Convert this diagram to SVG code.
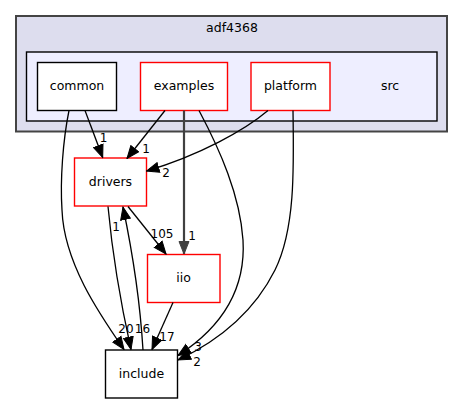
<svg xmlns="http://www.w3.org/2000/svg" width="464" height="404" viewBox="0 0 464 404">
<style>
text{font-family:"DejaVu Sans",sans-serif;fill:#000}
.n{font-size:12.5px;text-anchor:middle}
.l{font-size:12px;text-anchor:middle}
.box{fill:#fff;stroke:#000;stroke-width:1.4}
.red{fill:#fff;stroke:#ff0000;stroke-width:1.4}
.e{fill:none;stroke:#000;stroke-width:1.3;marker-end:url(#a)}
.eg{fill:none;stroke:#404040;stroke-width:2.2;marker-end:url(#ag)}
</style>
<defs>
<marker id="a" markerUnits="userSpaceOnUse" markerWidth="14" markerHeight="12" refX="13" refY="5.5" orient="auto" viewBox="0 0 14 11">
<polygon points="0.5,0.5 13,5.5 0.5,10.5" fill="#000" stroke="#000"/>
</marker>
<marker id="ag" markerUnits="userSpaceOnUse" markerWidth="14" markerHeight="12" refX="13" refY="5.5" orient="auto" viewBox="0 0 14 11">
<polygon points="0.5,0.5 13,5.5 0.5,10.5" fill="#404040" stroke="#404040"/>
</marker>
</defs>
<rect x="0" y="0" width="464" height="404" fill="#fff"/>
<g id="cluster_adf4368">
<rect x="16" y="16" width="431" height="115.5" fill="#ddddee" stroke="#444" stroke-width="2"/>
<text class="n" x="232" y="32">adf4368</text>
</g>
<g id="cluster_src">
<rect x="26.5" y="52" width="410.5" height="69" fill="#eeeeff" stroke="#000" stroke-width="1.4"/>
<text class="n" x="390" y="90">src</text>
</g>
<g id="common">
<rect class="box" x="37.5" y="62.5" width="79" height="48"/>
<text class="n" x="77" y="90">common</text>
</g>
<g id="examples">
<rect class="red" x="140.5" y="62.5" width="87" height="48"/>
<text class="n" x="184" y="90">examples</text>
</g>
<g id="platform">
<rect class="red" x="251" y="62.5" width="79" height="48"/>
<text class="n" x="290.5" y="90">platform</text>
</g>
<g id="drivers">
<rect class="red" x="74.5" y="158" width="72" height="48"/>
<text class="n" x="110.5" y="186">drivers</text>
</g>
<g id="iio">
<rect class="red" x="147.5" y="254.5" width="72.5" height="48"/>
<text class="n" x="183.5" y="282">iio</text>
</g>
<g id="include">
<rect class="box" x="105.5" y="350" width="72" height="48"/>
<text class="n" x="141.5" y="378">include</text>
</g>
<g id="connectors">
<path class="e" d="M85,110.5 L102.7,157.5"/>
<path class="e" d="M69,110.5 C63,140 60,180 62,210 C64,262 98,312 124,349.5"/>
<path class="e" d="M165,110.5 L127,158.5"/>
<path class="eg" d="M184,110.5 L184,254"/>
<path class="e" d="M199,110.5 C220,150 240,195 243,240 C246,290 222,327 178,355.5"/>
<path class="e" d="M268,110.5 C245,130 200,155 146.5,171"/>
<path class="e" d="M293,110.5 C294,170 295,230 275,270 C255,310 220,340 178,360"/>
<path class="e" d="M128,206.5 L166,254"/>
<path class="e" d="M173,302.5 L152,349.5"/>
<path class="e" d="M108,206.5 C112,250 120,300 131,349.5"/>
<path class="e" d="M143,350 C140,300 132,250 123,207"/>
<text class="l" x="103.5" y="142">1</text>
<text class="l" x="146" y="153">1</text>
<text class="l" x="166" y="177">2</text>
<text class="l" x="116" y="231">1</text>
<text class="l" x="162" y="238">105</text>
<text class="l" x="192" y="240">1</text>
<text class="l" x="167" y="341">17</text>
<text class="l" x="126" y="333">20</text>
<text class="l" x="142.5" y="333">16</text>
<text class="l" x="198" y="351">3</text>
<text class="l" x="197" y="366">2</text>
</g>
</svg>
